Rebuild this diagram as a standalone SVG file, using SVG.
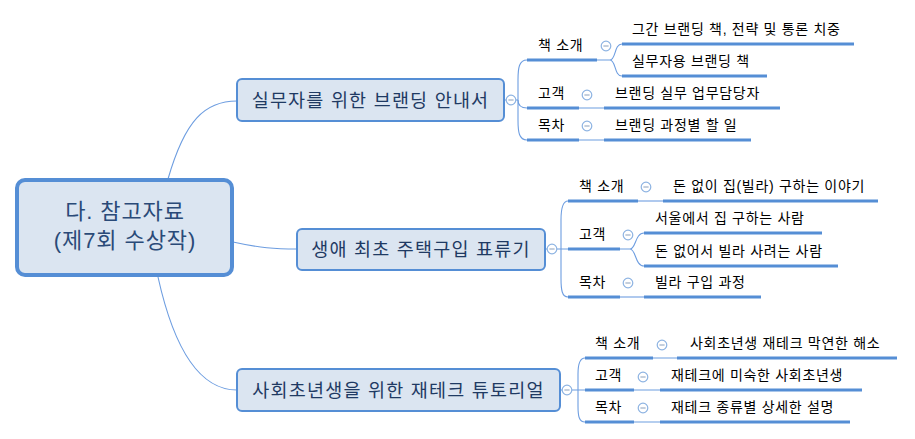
<svg xmlns="http://www.w3.org/2000/svg" width="915" height="439" viewBox="0 0 915 439">
<style>
text{font-family:"Liberation Sans","Noto Sans CJK KR",sans-serif;}
.node rect{fill:#dbe5f1;stroke:#558ed5;stroke-width:2;}
.ntxt{font-size:18.5px;fill:#1f3a63;text-anchor:middle;letter-spacing:1.2px;}
.rtxt{font-size:22px;fill:#2a4a78;text-anchor:middle;letter-spacing:0.9px;}
.lbl{font-size:14px;fill:#000;letter-spacing:0.7px;}
.thin{fill:none;stroke:#6d9de0;stroke-width:1.1;}
.ul{stroke:#558ed5;stroke-width:3;}
</style>
<defs>
<g id="minus"><circle cx="0" cy="0" r="4.8" fill="#fff" stroke="#8db3e2" stroke-width="1.2"/><line x1="-2.6" y1="0" x2="2.6" y2="0" stroke="#8a9fbb" stroke-width="1"/></g>
</defs>
<g id="connectors">
<path class="thin" d="M168,179 C185,120 205,101 237,101"/>
<path class="thin" d="M233,242 C260,248 275,249 297,249"/>
<path class="thin" d="M158,277 C172,340 195,390 237,390"/>
<path class="thin" d="M504,100 L506,100"/>
<path class="thin" d="M516,100 L518,100"/>
<path class="thin" d="M527,60 C519,60 518,68 518,80 L518,120 C518,132 519,140 527,140"/>
<path class="thin" d="M518,100 C518,106 521,108 527,108"/>
<path class="thin" d="M597,60 L610,60 C616,60 614,44 622,44 M610,60 C616,60 614,76 622,76"/>
<path class="thin" d="M579,108 L604,108 M579,140 L604,140"/>
<path class="thin" d="M545,249 L547,249 M557,249 L568,249"/>
<path class="thin" d="M568,201 C562,201 561,210 561,220 L561,278 C561,290 562,297 568,297"/>
<path class="thin" d="M638,201 L663,201"/>
<path class="thin" d="M620,249 L630,249 C636,249 635,233 644,233 M630,249 C636,249 635,266 644,266"/>
<path class="thin" d="M620,297 L644,297"/>
<path class="thin" d="M560,390 L562,390 M572,390 L585,390"/>
<path class="thin" d="M585,358 C579,358 578,366 578,374 L578,406 C578,416 579,422 585,422"/>
<path class="thin" d="M653,358 L677,358 M634,390 L660,390 M634,422 L660,422"/>
</g>
<g id="underlines">
<line class="ul" x1="527" y1="60" x2="597" y2="60"/>
<line class="ul" x1="622" y1="44" x2="854" y2="44"/>
<line class="ul" x1="622" y1="76" x2="767" y2="76"/>
<line class="ul" x1="527" y1="108" x2="579" y2="108"/>
<line class="ul" x1="604" y1="108" x2="780" y2="108"/>
<line class="ul" x1="527" y1="140" x2="579" y2="140"/>
<line class="ul" x1="604" y1="140" x2="751" y2="140"/>
<line class="ul" x1="568" y1="201" x2="638" y2="201"/>
<line class="ul" x1="663" y1="201" x2="878" y2="201"/>
<line class="ul" x1="568" y1="249" x2="620" y2="249"/>
<line class="ul" x1="644" y1="233" x2="822" y2="233"/>
<line class="ul" x1="644" y1="266" x2="838" y2="266"/>
<line class="ul" x1="568" y1="297" x2="620" y2="297"/>
<line class="ul" x1="644" y1="297" x2="761" y2="297"/>
<line class="ul" x1="585" y1="358" x2="653" y2="358"/>
<line class="ul" x1="677" y1="358" x2="897" y2="358"/>
<line class="ul" x1="585" y1="390" x2="634" y2="390"/>
<line class="ul" x1="660" y1="390" x2="862" y2="390"/>
<line class="ul" x1="585" y1="422" x2="634" y2="422"/>
<line class="ul" x1="660" y1="422" x2="850" y2="422"/>
</g>
<g id="root" class="node">
<rect x="17" y="180" width="215" height="95" rx="8" style="stroke-width:4"/>
<text class="rtxt" x="125" y="219">다. 참고자료</text>
<text class="rtxt" x="125" y="248">(제7회 수상작)</text>
</g>
<g id="node1" class="node">
<rect x="237" y="79" width="267" height="42" rx="5"/>
<text class="ntxt" x="370.5" y="106.5">실무자를 위한 브랜딩 안내서</text>
</g>
<g id="node2" class="node">
<rect x="297" y="229" width="248" height="41" rx="5"/>
<text class="ntxt" x="421" y="256">생애 최초 주택구입 표류기</text>
</g>
<g id="node3" class="node">
<rect x="237" y="369" width="323" height="42" rx="5"/>
<text class="ntxt" x="398.5" y="396.5">사회초년생을 위한 재테크 튜토리얼</text>
</g>
<g id="collapse">
<use href="#minus" x="511" y="100"/>
<use href="#minus" x="552" y="249"/>
<use href="#minus" x="567" y="390"/>
<use href="#minus" x="606" y="46"/>
<use href="#minus" x="587" y="95"/>
<use href="#minus" x="587" y="126"/>
<use href="#minus" x="646" y="187"/>
<use href="#minus" x="628" y="235"/>
<use href="#minus" x="628" y="283"/>
<use href="#minus" x="662" y="345"/>
<use href="#minus" x="643" y="377"/>
<use href="#minus" x="643" y="408"/>
</g>
<g id="b1">
<text class="lbl" x="538" y="50">책 소개</text>
<text class="lbl" x="632" y="34">그간 브랜딩 책, 전략 및 통론 치중</text>
<text class="lbl" x="632" y="66">실무자용 브랜딩 책</text>
<text class="lbl" x="538" y="98">고객</text>
<text class="lbl" x="615" y="98">브랜딩 실무 업무담당자</text>
<text class="lbl" x="538" y="130">목차</text>
<text class="lbl" x="615" y="130">브랜딩 과정별 할 일</text>
</g>
<g id="b2">
<text class="lbl" x="579" y="191">책 소개</text>
<text class="lbl" x="673" y="191">돈 없이 집(빌라) 구하는 이야기</text>
<text class="lbl" x="579" y="239">고객</text>
<text class="lbl" x="655" y="223">서울에서 집 구하는 사람</text>
<text class="lbl" x="655" y="256">돈 없어서 빌라 사려는 사람</text>
<text class="lbl" x="579" y="287">목차</text>
<text class="lbl" x="655" y="287">빌라 구입 과정</text>
</g>
<g id="b3">
<text class="lbl" x="595" y="348">책 소개</text>
<text class="lbl" x="690" y="348">사회초년생 재테크 막연한 해소</text>
<text class="lbl" x="595" y="380">고객</text>
<text class="lbl" x="671" y="380">재테크에 미숙한 사회초년생</text>
<text class="lbl" x="595" y="412">목차</text>
<text class="lbl" x="671" y="412">재테크 종류별 상세한 설명</text>
</g>
</svg>
